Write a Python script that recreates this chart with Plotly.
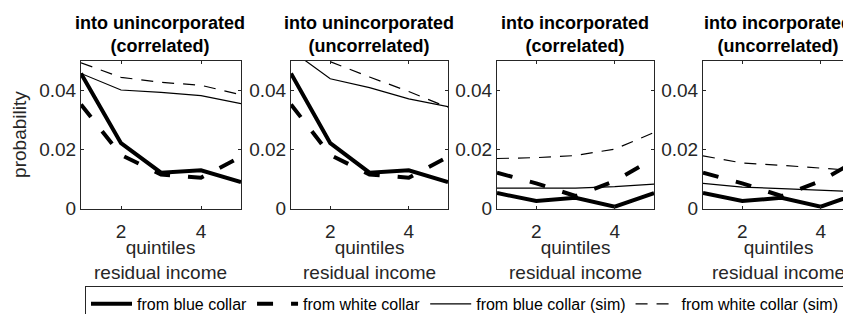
import plotly.graph_objects as go

# ---- data ----
quintiles = [1, 2, 3, 4, 5]

# into unincorporated (observed, same in both panels)
blue_uninc = [0.0458, 0.0222, 0.0122, 0.0130, 0.0090]
white_uninc = [0.0353, 0.0182, 0.0116, 0.0105, 0.0176]
# simulated, correlated
blue_sim_uninc_corr = [0.0458, 0.0402, 0.0394, 0.0383, 0.0356]
white_sim_uninc_corr = [0.0494, 0.0445, 0.0428, 0.0418, 0.0386]
# simulated, uncorrelated
blue_sim_uninc_unc = [0.0537, 0.0440, 0.0410, 0.0372, 0.0346]
white_sim_uninc_unc = [0.0550, 0.0497, 0.0446, 0.0397, 0.0343]

# into incorporated (observed, same in both panels)
blue_inc = [0.0053, 0.0026, 0.0037, 0.0007, 0.0053]
white_inc = [0.0122, 0.0086, 0.0043, 0.0094, 0.0170]
# simulated, correlated
blue_sim_inc_corr = [0.0070, 0.0070, 0.0070, 0.0075, 0.0083]
white_sim_inc_corr = [0.0170, 0.0173, 0.0180, 0.0202, 0.0258]
# simulated, uncorrelated
blue_sim_inc_unc = [0.0086, 0.0073, 0.0068, 0.0062, 0.0057]
white_sim_inc_unc = [0.0179, 0.0155, 0.0147, 0.0138, 0.0128]

panel_titles = ["into unincorporated<br>(correlated)",
                "into unincorporated<br>(uncorrelated)",
                "into incorporated<br>(correlated)",
                "into incorporated<br>(uncorrelated)"]
series_names = ["from blue collar", "from white collar",
                "from blue collar (sim)", "from white collar (sim)"]
panel_data = [
    [blue_uninc, white_uninc, blue_sim_uninc_corr, white_sim_uninc_corr],
    [blue_uninc, white_uninc, blue_sim_uninc_unc, white_sim_uninc_unc],
    [blue_inc, white_inc, blue_sim_inc_corr, white_sim_inc_corr],
    [blue_inc, white_inc, blue_sim_inc_unc, white_sim_inc_unc],
]
x_ticks = [2, 4]
y_ticks = [0, 0.02, 0.04]
y_tick_text = ["0", "0.02", "0.04"]
x_title = "quintiles<br>residual income"
y_title = "probability"

# ---- layout geometry (pixels) ----
W, H = 851, 314
px_left = [73, 283, 489, 695]
px_right = [233, 440, 646, 851]
x_max = [5, 5, 5, 4.975]
title_cx = [152, 361, 567, 770]
top_px, bot_px = 55, 208

styles = [dict(width=4, dash="solid"),
          dict(width=4, dash="16px,18px"),
          dict(width=1.2, dash="solid"),
          dict(width=1.2, dash="12px,9px")]

FONT = "Liberation Sans, Arial, sans-serif"
AX = "#262626"

fig = go.Figure()
for p, data in enumerate(panel_data):
    xa = "x" if p == 0 else f"x{p+1}"
    ya = "y" if p == 0 else f"y{p+1}"
    for s, vals in enumerate(data):
        fig.add_trace(go.Scatter(
            x=quintiles, y=vals, mode="lines", name=series_names[s],
            line=dict(color="black", **styles[s]),
            showlegend=(p == 0), xaxis=xa, yaxis=ya, hoverinfo="skip"))

    key = "" if p == 0 else str(p + 1)
    fig.update_layout(**{
        f"xaxis{key}": dict(
            domain=[px_left[p] / W, px_right[p] / W], range=[1, x_max[p]],
            anchor=ya, tickvals=x_ticks, ticks="inside", ticklen=3,
            tickcolor=AX, showline=True, linecolor=AX, linewidth=1,
            mirror="ticks", showgrid=False, zeroline=False,
            ticklabelstandoff=5,
            tickfont=dict(family=FONT, size=19, color=AX)),
        f"yaxis{key}": dict(
            domain=[1 - bot_px / H, 1 - top_px / H], range=[0, 0.05],
            anchor=xa, tickvals=y_ticks, ticktext=y_tick_text,
            ticks="inside", ticklen=3, tickcolor=AX, showline=True,
            linecolor=AX, linewidth=1,
            mirror=("ticks" if p < 3 else False),
            showgrid=False, zeroline=False,
            tickfont=dict(family=FONT, size=19, color=AX)),
    })
    cx = title_cx[p] / W
    fig.add_annotation(text="<b>" + panel_titles[p].replace("<br>", "</b><br><b>") + "</b>",
                       x=cx, y=1 - 27 / H, xref="paper", yref="paper",
                       xanchor="center", yanchor="middle", showarrow=False,
                       font=dict(family=FONT, size=18, color="black"))
    fig.add_annotation(text=x_title, x=cx, y=1 - 261 / H, xref="paper",
                       yref="paper", xanchor="center", yanchor="middle",
                       showarrow=False, font=dict(family=FONT, size=19, color=AX))

fig.add_annotation(text=y_title, textangle=-90, x=12 / W, y=1 - 131.5 / H,
                   xref="paper", yref="paper", xanchor="center",
                   yanchor="middle", showarrow=False,
                   font=dict(family=FONT, size=19, color=AX))

fig.update_layout(
    width=W, height=H, margin=dict(l=0, r=0, t=0, b=0),
    paper_bgcolor="white", plot_bgcolor="white",
    legend=dict(orientation="h", x=77 / W, y=1 - 288 / H, xanchor="left",
                yanchor="top", bgcolor="white", bordercolor=AX, borderwidth=1,
                itemwidth=41,
                font=dict(family=FONT, size=16, color="black")),
)

fig.write_html("out.html")
